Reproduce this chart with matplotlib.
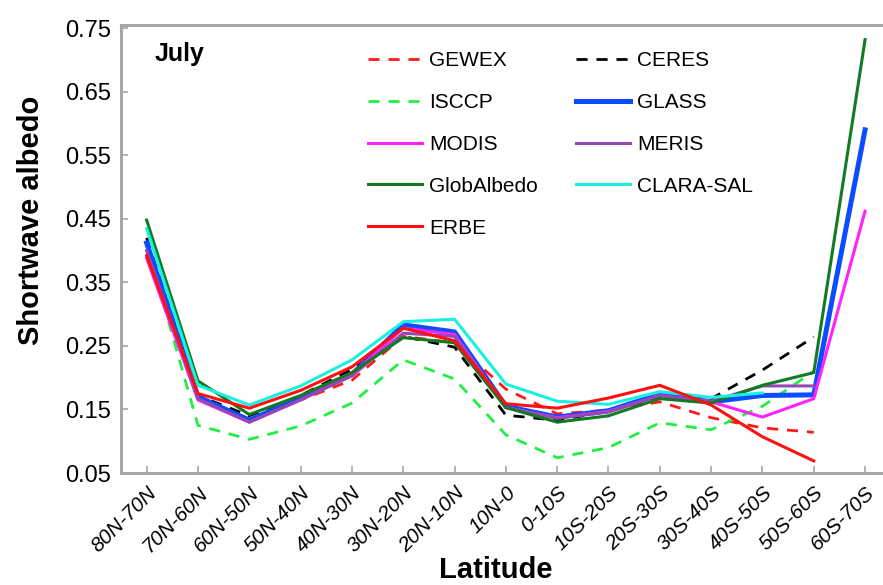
import numpy as np
import matplotlib
matplotlib.use("Agg")
import matplotlib.pyplot as plt

plt.rcParams["font.family"] = ["Liberation Sans", "DejaVu Sans"]

nan = np.nan

# Latitude bands, north to south
bands = ["80N-70N", "70N-60N", "60N-50N", "50N-40N", "40N-30N", "30N-20N",
         "20N-10N", "10N-0", "0-10S", "10S-20S", "20S-30S", "30S-40S",
         "40S-50S", "50S-60S", "60S-70S"]

# Zonal mean shortwave albedo, July
gewex = [0.400, 0.170, 0.135, 0.165, 0.196, 0.265, 0.255, 0.182, 0.143, 0.149,
         0.162, 0.137, 0.121, 0.114, nan]
isccp = [0.410, 0.125, 0.103, 0.124, 0.160, 0.228, 0.198, 0.110, 0.074, 0.090,
         0.129, 0.118, 0.155, 0.210, nan]
modis = [0.388, 0.165, 0.130, 0.165, 0.205, 0.278, 0.268, 0.153, 0.137, 0.147,
         0.172, 0.162, 0.138, 0.167, 0.462]
globalbedo = [0.448, 0.195, 0.142, 0.172, 0.208, 0.263, 0.255, 0.153, 0.130, 0.140,
              0.167, 0.160, 0.188, 0.208, 0.732]
erbe = [0.392, 0.175, 0.152, 0.180, 0.217, 0.278, 0.258, 0.159, 0.152, 0.168,
        0.188, 0.157, 0.107, 0.069, nan]
ceres = [0.420, 0.172, 0.140, 0.172, 0.213, 0.265, 0.248, 0.141, 0.133, 0.147,
         0.170, 0.167, 0.212, 0.264, nan]
glass = [0.412, 0.170, 0.133, 0.168, 0.205, 0.283, 0.272, 0.155, 0.138, 0.148,
         0.174, 0.162, 0.172, 0.173, 0.590]
meris = [0.400, 0.167, 0.130, 0.165, 0.203, 0.270, 0.265, 0.153, 0.136, 0.146,
         0.172, 0.163, 0.187, 0.187, nan]
clara = [0.435, 0.188, 0.157, 0.187, 0.228, 0.288, 0.292, 0.190, 0.163, 0.158,
         0.178, 0.169, 0.176, nan, nan]

yticks = [0.05, 0.15, 0.25, 0.35, 0.45, 0.55, 0.65, 0.75]

SPINE = "#a6a6a6"
DASH = (4, 3.2)

fig = plt.figure(figsize=(8.83, 5.85), dpi=100)
ax = fig.add_axes([121 / 883, 1 - 473 / 585, 761 / 883, 448 / 585])

x = np.arange(len(bands))

ax.plot(x, gewex, color="#ff1a1a", lw=2.0, dashes=DASH, label="GEWEX")
ax.plot(x, isccp, color="#22ee44", lw=2.0, dashes=DASH, label="ISCCP")
ax.plot(x, ceres, color="black", lw=2.0, dashes=DASH, label="CERES")
ax.plot(x, glass, color="#0a4dff", lw=3.6, label="GLASS")
ax.plot(x, modis, color="#ff22ff", lw=2.2, label="MODIS")
ax.plot(x, meris, color="#9448b4", lw=2.2, label="MERIS")
ax.plot(x, globalbedo, color="#117a22", lw=2.2, label="GlobAlbedo")
ax.plot(x, clara, color="#1af0e0", lw=2.2, label="CLARA-SAL")
ax.plot(x, erbe, color="#ff1010", lw=2.2, label="ERBE")

ax.set_xlim(-0.5, 14.33)
ax.set_ylim(0.05, 0.755)
ax.set_yticks(yticks)
ax.set_yticklabels([f"{v:.2f}" for v in yticks], fontsize=17)
ax.set_xticks(x)
ax.set_xticklabels(bands, rotation=45, ha="right", rotation_mode="anchor",
                   fontsize=15, style="italic")
ax.tick_params(axis="both", direction="in", length=5, width=1.2, color=SPINE)
ax.tick_params(axis="x", pad=7)
ax.tick_params(axis="y", pad=7)

for side in ("left", "bottom", "top"):
    ax.spines[side].set_color(SPINE)
    ax.spines[side].set_linewidth(2.2)
ax.spines["right"].set_visible(False)

ax.set_ylabel("Shortwave albedo", fontsize=21, fontweight="bold")
ax.yaxis.set_label_coords(-0.1, 0.565)
ax.set_xlabel("Latitude", fontsize=21, fontweight="bold", va="top")
ax.xaxis.set_label_coords(0.493, -0.185)

ax.text(0.044, 0.935, "July", transform=ax.transAxes, fontsize=18,
        fontweight="bold", va="center", ha="left")

order = ["GEWEX", "ISCCP", "MODIS", "GlobAlbedo", "ERBE",
         "CERES", "GLASS", "MERIS", "CLARA-SAL"]
handles, labels = ax.get_legend_handles_labels()
lookup = dict(zip(labels, handles))
ax.legend([lookup[k] for k in order], order, ncol=2, frameon=False,
          loc="upper left", bbox_to_anchor=(368 / 883, 1 - 51 / 585),
          bbox_transform=fig.transFigure, borderpad=0, borderaxespad=0,
          fontsize=15, handlelength=2.6, handletextpad=0.35,
          labelspacing=1.1, columnspacing=1.8)

fig.savefig("out.png", dpi=100, facecolor="white")
